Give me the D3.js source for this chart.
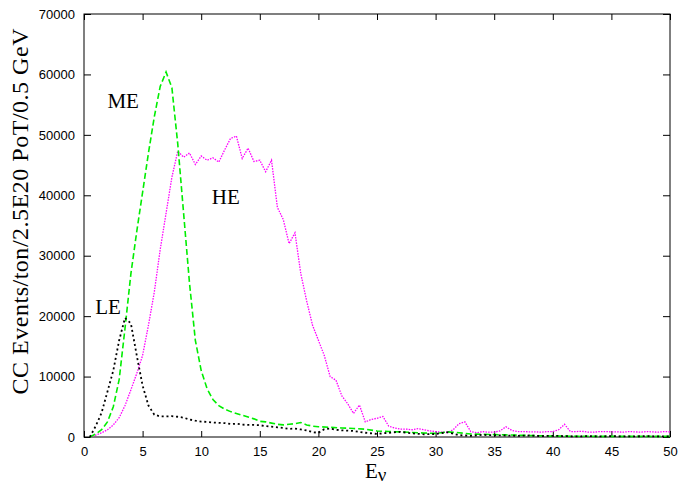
<!DOCTYPE html>
<html>
<head>
<meta charset="utf-8">
<script src="https://cdn.jsdelivr.net/npm/d3@7"></script>
<style>
  html, body { margin: 0; padding: 0; background: #fff; }
  svg { display: block; }
</style>
</head>
<body>
<svg id="chart" width="678" height="485"></svg>
<script>
// ---- data ----
const xTicks = [0, 5, 10, 15, 20, 25, 30, 35, 40, 45, 50];
const yTicks = [0, 10000, 20000, 30000, 40000, 50000, 60000, 70000];

const leE = [0.5,1,1.5,2,2.5,3,3.5,4,4.5,5,5.5,6,6.5,7,7.5,8,8.5,9,9.5,10,10.5,11,11.5,12,12.5,13,13.5,14,14.5,15,15.5,16,16.5,17,17.5,18,18.5,19,19.5,20,20.5,21,21.5,22,22.5,23,24,25,26,27,28,29,30,31,32,33,34,35,36,37,38,39,40,41,42,43,44,45,46,47,48,49,50];
const leV = [0,1800,4000,7500,11000,16000,19700,18800,13500,8500,5200,3700,3400,3400,3450,3350,3200,2900,2700,2550,2500,2400,2350,2300,2150,2200,2050,2000,2000,1950,1800,1700,1600,1500,1350,1400,1250,1100,800,700,1300,1400,1200,1100,1050,1000,700,500,700,850,600,450,500,800,300,200,350,300,250,200,250,150,200,150,100,150,100,150,100,100,150,100,100];

const meE = [0.5,1,1.5,2,2.5,3,3.5,4,4.5,5,5.5,6,6.5,7,7.5,8,8.5,9,9.5,10,10.5,11,11.5,12,12.5,13,13.5,14,14.5,15,15.5,16,16.5,17,17.5,18,18.5,19,19.5,20,21,22,23,24,25,26,27,28,29,30,31,32,33,34,35,36,37,38,39,40,41,42,43,44,45,46,47,48,49,50];
const meV = [0,500,1200,2500,5000,9500,18000,27000,34000,40500,47000,53000,58000,60400,57800,48500,37000,25500,16000,11000,8000,6200,5200,4600,4200,3900,3600,3300,3000,2600,2500,2300,2100,2000,2100,2200,2400,2000,1800,1700,1600,1500,1400,1300,1000,900,850,750,650,600,850,700,500,450,400,350,300,250,200,150,150,120,120,100,100,100,100,100,100,100];

const heE = [0.5,1,1.5,2,2.5,3,3.5,4,4.5,5,5.5,6,6.5,7,7.5,8,8.5,9,9.5,10,10.5,11,11.5,12,12.5,13,13.5,14,14.5,15,15.5,16,16.5,17,17.5,18,18.5,19,19.5,20,20.5,21,21.5,22,22.5,23,23.5,24,24.5,25,25.5,26,26.5,27,27.5,28,28.5,29,29.5,30,30.5,31,31.5,32,32.5,33,33.5,34,34.5,35,35.5,36,36.5,37,37.5,38,38.5,39,39.5,40,40.5,41,41.5,42,42.5,43,43.5,44,44.5,45,45.5,46,46.5,47,47.5,48,48.5,49,49.5,50];
const heV = [0,300,700,1200,2000,3200,5200,7800,10500,13500,18500,24000,31000,37000,43000,47300,46300,47000,45100,46500,45800,46200,45500,47500,49400,49800,46100,47800,45600,45800,43900,45800,38000,36000,32000,33800,27000,22500,18500,16000,13500,10000,9400,6800,5500,3900,5300,2500,2900,3100,3400,1800,1500,1300,1300,1200,1400,1200,1000,900,800,750,1200,2200,2500,900,700,900,800,800,1000,1700,1100,900,900,850,850,800,900,900,1200,2100,900,900,950,800,800,900,900,850,850,800,900,850,800,900,850,800,900,850];

const labels = [
  { text: "ME", x: 2.0, y: 54500 },
  { text: "HE", x: 10.9, y: 38600 },
  { text: "LE", x: 0.95, y: 20300 }
];

// ---- drawing ----
const svg = d3.select("#chart");
const L = 84, R = 670, T = 14, B = 437;
const x = d3.scaleLinear().domain([0, 50]).range([L, R]);
const y = d3.scaleLinear().domain([0, 70000]).range([B, T]);

const tickFont = "'Liberation Sans', Arial, sans-serif";
const serif = "'Liberation Serif', 'Times New Roman', serif";

// frame
svg.append("rect").attr("x", L).attr("y", T).attr("width", R - L).attr("height", B - T)
  .attr("fill", "none").attr("stroke", "#000").attr("stroke-width", 1);

// axes
const xAxisB = d3.axisBottom(x).tickValues(xTicks).tickSize(-6).tickPadding(9.5).tickFormat(d3.format("d"));
const gx = svg.append("g").attr("transform", `translate(0,${B})`).call(xAxisB);
const xAxisT = d3.axisTop(x).tickValues(xTicks).tickSize(-6).tickFormat("");
const gxt = svg.append("g").attr("transform", `translate(0,${T})`).call(xAxisT);
const yAxisL = d3.axisLeft(y).tickValues(yTicks).tickSize(-7).tickPadding(9).tickFormat(d3.format("d"));
const gy = svg.append("g").attr("transform", `translate(${L},0)`).call(yAxisL);
const yAxisR = d3.axisRight(y).tickValues(yTicks).tickSize(-7).tickFormat("");
const gyr = svg.append("g").attr("transform", `translate(${R},0)`).call(yAxisR);

[gx, gxt, gy, gyr].forEach(g => {
  g.select(".domain").remove();
  g.selectAll(".tick line").attr("stroke", "#000").attr("stroke-width", 1);
  g.selectAll("text").attr("font-family", tickFont).attr("font-size", 13).attr("fill", "#000");
});
gx.selectAll("text").attr("dy", "0.71em");

// series
const line = d3.line().x(d => x(d[0])).y(d => y(d[1]));
function draw(E, V, color, dash, width) {
  svg.append("path")
    .datum(E.map((e, i) => [e, V[i]]))
    .attr("d", line)
    .attr("fill", "none")
    .attr("stroke", color)
    .attr("stroke-width", width)
    .attr("stroke-dasharray", dash);
}
draw(heE, heV, "#ff00ff", "1.5,1.2", 1.3);
draw(meE, meV, "#00ee00", "6,3", 1.6);
draw(leE, leV, "#000000", "2,2.8", 1.8);

// curve labels
svg.selectAll(".lbl").data(labels).enter().append("text")
  .attr("class", "lbl")
  .attr("x", d => x(d.x)).attr("y", d => y(d.y))
  .attr("font-family", serif).attr("font-size", 21)
  .text(d => d.text);

// axis titles
const xt = svg.append("text").attr("x", 365).attr("y", 477.5)
  .attr("font-family", serif).attr("font-size", 21);
xt.append("tspan").text("E");
xt.append("tspan").attr("dy", 3.5).attr("font-size", 19).text("ν");

svg.append("text")
  .attr("transform", "translate(28,211.5) rotate(-90)")
  .attr("text-anchor", "middle")
  .attr("font-family", serif).attr("font-size", 24)
  .attr("textLength", 366).attr("lengthAdjust", "spacing")
  .text("CC Events/ton/2.5E20 PoT/0.5 GeV");
</script>
</body>
</html>
